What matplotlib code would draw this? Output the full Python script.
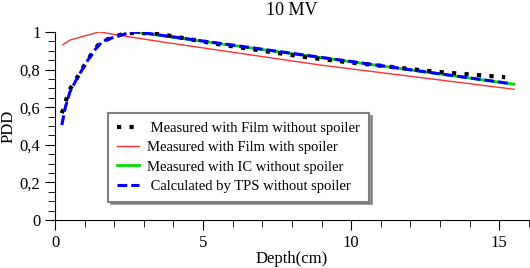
import numpy as np
import matplotlib.pyplot as plt
from matplotlib.ticker import MultipleLocator, FuncFormatter

# depth (cm) and PDD values
film_depth = [0.23, 0.35, 0.47, 0.69, 0.88, 1.09, 1.32, 1.55, 1.94, 2.32, 2.7, 3.5, 5.5, 8.5, 10.0, 12.8, 15.2]
film_pdd = [0.568, 0.624, 0.688, 0.741, 0.794, 0.847, 0.904, 0.948, 0.970, 0.991, 0.995, 0.990, 0.935, 0.865, 0.837, 0.789, 0.759]

spoiler_depth = [0.26, 0.51, 1.5, 1.97, 3.77, 8.95, 15.5]
spoiler_pdd = [0.931, 0.957, 1.0, 0.987, 0.943, 0.824, 0.695]

ic_depth = [2.6, 3.0, 15.5]
ic_pdd = [1.0, 0.993, 0.722]

tps_depth = [0.23, 0.35, 0.5, 0.7, 0.9, 1.1, 1.35, 1.6, 2.0, 2.6, 3.0, 15.3]
tps_pdd = [0.505, 0.60, 0.68, 0.74, 0.795, 0.848, 0.905, 0.95, 0.972, 1.0, 0.995, 0.727]

plt.rcParams['font.family'] = ['Liberation Serif', 'DejaVu Serif']

fig = plt.figure(figsize=(5.3, 2.68), dpi=100)
ax = fig.add_axes([0.1038, 0.179, 0.894, 0.702])

ax.plot(film_depth, film_pdd, color='black', lw=3.0, dashes=(1, 2.0),
        dash_capstyle='butt', label=' Measured with Film without spoiler', zorder=4)
ax.plot(spoiler_depth, spoiler_pdd, color='#ff3030', lw=1.0,
        label='Measured with Film with spoiler', zorder=2)
ax.plot(ic_depth, ic_pdd, color='#00e000', lw=2.0,
        label='Measured with IC without spoiler', zorder=3)
ax.plot(tps_depth, tps_pdd, color='#0000ff', lw=2.2, dashes=(3.2, 1.3),
        label=' Calculated by TPS without spoiler', zorder=5)

ax.set_xlim(0, 16)
ax.set_ylim(0, 1)
ax.spines['top'].set_visible(False)
ax.spines['right'].set_visible(False)
ax.xaxis.set_major_locator(MultipleLocator(5))
ax.xaxis.set_minor_locator(MultipleLocator(1))
ax.yaxis.set_major_locator(MultipleLocator(0.2))
ax.yaxis.set_minor_locator(MultipleLocator(0.05))
ax.yaxis.set_major_formatter(FuncFormatter(lambda v, p: ('%g' % round(v, 2)).replace('.', ',')))
ax.tick_params(which='major', length=7, labelsize=12)
ax.tick_params(which='minor', length=5)

ax.set_xlabel('Depth(cm)', fontsize=12, labelpad=0)
ax.set_ylabel('PDD', fontsize=12, labelpad=2)
ax.set_title('10 MV', fontsize=13, pad=12)

leg = ax.legend(loc='upper left', bbox_to_anchor=(0.112, 0.569), borderaxespad=0,
                fontsize=10.5, frameon=True, fancybox=False, shadow=True,
                handlelength=1.5, handletextpad=0.6, borderpad=0.6,
                labelspacing=0.42)
leg.get_frame().set_edgecolor('#808080')
leg.get_frame().set_linewidth(1.5)

fig.savefig('out.png', dpi=100)
